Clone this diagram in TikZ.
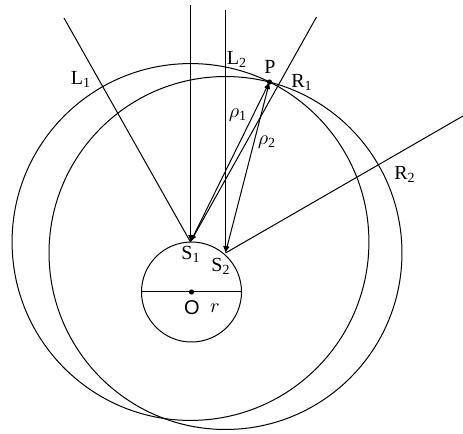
\documentclass[tikz,border=0pt]{standalone}
\usepackage{fontspec}
\setmainfont{Liberation Serif}
\newfontfamily\labelsans{Liberation Sans}
\usetikzlibrary{arrows.meta,calc}
\tikzset{
  every picture/.style={line width=0.5pt},
  ray/.style={-{Latex[length=3.5pt,width=2.4pt]}},
  both/.style={{Latex[length=3.5pt,width=2.4pt]}-{Latex[length=3.5pt,width=2.4pt]}},
  lbl/.style={font=\fontsize{10}{12}\selectfont, inner sep=0.5pt},
}

\begin{document}
\begin{tikzpicture}[x=0.5pt, y=-0.5pt]
\useasboundingbox (0,0) rectangle (463,434);
% Sensor points and target
\coordinate (O) at (191.5,292);
\coordinate (S1) at (190.5,242);
\coordinate (S2) at (225.5,253);
\coordinate (P) at (269.5,82);
% Far ends of the incoming rays
\coordinate (l1) at (64,18);
\coordinate (v1) at (190.5,5);
\coordinate (v2) at (225.5,10);
\coordinate (r1) at (316.5,17);
\coordinate (r2) at (463,116);
% Small circle with its diameter
\draw (O) circle (25pt);
\draw ([xshift=-25pt]O) -- ([xshift=25pt]O);
\fill (O) circle (1.3pt);
% Range circles round S1 and S2 through P
\draw let \p1 = ($(P)-(S1)$), \n1 = {veclen(\x1,\y1)} in (S1) circle (\n1);
\draw let \p1 = ($(P)-(S2)$), \n1 = {veclen(\x1,\y1)} in (S2) circle (\n1);
% Rays to S1
\draw (l1) -- (S1);
\draw[ray] (v1) -- (S1);
\draw[ray] (r1) -- (S1);
% Rays to S2
\draw[ray] (v2) -- (S2);
\draw (r2) -- (S2);
% Ranges to P
\draw[both] (S1) -- (P);
\draw[both] (S2) -- (P);
\fill (P) circle (1.3pt);
% Labels
\node[lbl] (L1) at (81,79) {L\textsubscript{1}};
\node[lbl] (L2) at (237,59) {L\textsubscript{2}};
\node[lbl] (Plbl) at (270,67) {P};
\node[lbl] (R1) at (302,82) {R\textsubscript{1}};
\node[lbl] (R2) at (405,174) {R\textsubscript{2}};
\node[lbl] (rho1) at (238,115) {$\rho$\textsubscript{1}};
\node[lbl] (rho2) at (267,142) {$\rho$\textsubscript{2}};
\node[lbl] (S1lbl) at (191,254) {S\textsubscript{1}};
\node[lbl] (S2lbl) at (221,266) {S\textsubscript{2}};
\node[lbl] (Olbl) at (192,308) {\labelsans O};
\node[lbl] (rlbl) at (215,308) {$r$};
\end{tikzpicture}
\end{document}
